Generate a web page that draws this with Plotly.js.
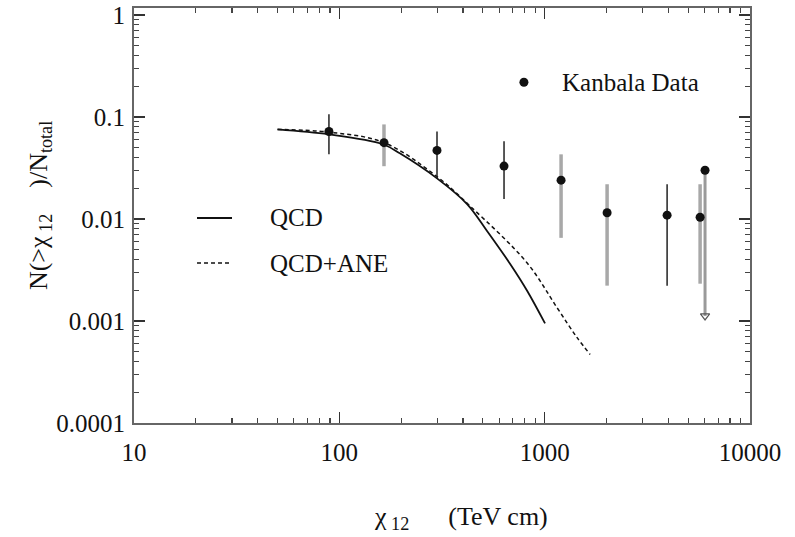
<!DOCTYPE html>
<html>
<head>
<meta charset="utf-8">
<script src="https://cdn.plot.ly/plotly-3.0.1.min.js"></script>
<style>
  html, body { margin: 0; padding: 0; background: #fff; }
  #plot { width: 795px; height: 537px; }
  /* serif face for every label in the chart */
  #plot text, #plot tspan { font-family: "Liberation Serif", "Times New Roman", serif !important; }
</style>
</head>
<body>
<div id="plot"></div>
<script>
// QCD prediction (solid)
const qcdX = [50, 89, 163, 197, 299, 419, 524, 678, 820, 1004];
const qcdY = [0.0755, 0.0675, 0.054, 0.044, 0.025, 0.014, 0.00763, 0.00364, 0.00199, 0.000946];

// QCD + ANE prediction (dashed)
const aneX = [50, 89, 165, 299, 433, 820, 1149, 1436, 1665];
const aneY = [0.0755, 0.071, 0.056, 0.026, 0.0134, 0.00372, 0.00135, 0.00069, 0.00047];

// Kanbala measurements with lower / upper bounds of the error bars
const kanX  = [89, 165, 299, 634, 1202, 2014, 3947, 5715];
const kanY  = [0.072, 0.056, 0.047, 0.033, 0.024, 0.0115, 0.0109, 0.0104];
const kanHi = [0.106, 0.0845, 0.0722, 0.0577, 0.043, 0.0219, 0.0219, 0.0219];
const kanLo = [0.043, 0.0329, 0.0251, 0.0157, 0.00653, 0.00222, 0.00222, 0.00232];
const kanTone = ['dark', 'grey', 'dark', 'dark', 'grey', 'grey', 'dark', 'grey'];

// last point: upper limit with a downward arrow
const limX = [6040];
const limY = [0.030];
const limFloor = [0.00112];

// axis ticks
const xTickVals = [10, 100, 1000, 10000];
const xTickText = ['10', '100', '1000', '10000'];
const yTickVals = [0.0001, 0.001, 0.01, 0.1, 1];
const yTickText = ['0.0001', '0.001', '0.01', '0.1', '1'];

// key entries
const keyNames = ['Kanbala Data', 'QCD', 'QCD+ANE'];

function minorTicks(lo, hi) {
  const out = [];
  for (let e = lo; e < hi; e++) {
    for (let d = 2; d <= 9; d++) out.push(d * Math.pow(10, e));
  }
  return out;
}

const FAMILY = 'Liberation Serif';
const INK = '#111111';
const NB = '\u00a0';
function serifFont(size) { return { family: FAMILY, size: size, color: INK }; }

function barTrace(tone, color, thick) {
  const idx = kanTone.map((t, i) => t === tone ? i : -1).filter(i => i >= 0);
  return {
    type: 'scatter', mode: 'markers', showlegend: false, hoverinfo: 'skip',
    x: idx.map(i => kanX[i]),
    y: idx.map(i => kanY[i]),
    marker: { size: 1, color: 'rgba(0,0,0,0)' },
    error_y: {
      type: 'data', symmetric: false,
      array: idx.map(i => kanHi[i] - kanY[i]),
      arrayminus: idx.map(i => kanY[i] - kanLo[i]),
      color: color, thickness: thick, width: 0
    }
  };
}

const traces = [
  {
    type: 'scatter', mode: 'lines', name: keyNames[1], showlegend: false,
    x: qcdX, y: qcdY,
    line: { color: INK, width: 1.8, shape: 'spline', smoothing: 1 }
  },
  {
    type: 'scatter', mode: 'lines', name: keyNames[2], showlegend: false,
    x: aneX, y: aneY,
    line: { color: INK, width: 1.5, dash: '4px,3px', shape: 'spline', smoothing: 1 }
  },
  barTrace('grey', '#a8a8a8', 3.5),
  barTrace('dark', '#222', 1.5),
  {
    type: 'scatter', mode: 'markers', showlegend: false, hoverinfo: 'skip',
    x: limX, y: limY,
    marker: { size: 1, color: 'rgba(0,0,0,0)' },
    error_y: {
      type: 'data', symmetric: false,
      array: limY.map(() => 0),
      arrayminus: limY.map((v, i) => v - limFloor[i]),
      color: '#9a9a9a', thickness: 3, width: 0
    }
  },
  {
    type: 'scatter', mode: 'markers', showlegend: false, hoverinfo: 'skip',
    x: limX, y: limFloor,
    marker: { symbol: 'triangle-down-open', size: 8, color: '#555', line: { color: '#555', width: 1.2 } }
  },
  {
    type: 'scatter', mode: 'markers', name: keyNames[0], showlegend: false,
    x: kanX.concat(limX), y: kanY.concat(limY),
    marker: { size: 9, color: '#111' }
  }
];

function axis(extra) {
  return Object.assign({
    type: 'log',
    showgrid: false, zeroline: false,
    showline: true, linecolor: '#666', linewidth: 2, mirror: 'ticks',
    ticks: 'inside', ticklen: 11, tickwidth: 1.5, tickcolor: '#333',
    tickmode: 'array',
    tickfont: serifFont(25)
  }, extra);
}

// key placed inside the plotting area (paper fractions)
const keyItems = [
  { kind: 'dot',    x: 0.633, y: 0.821, tx: 0.6916, label: keyNames[0] },
  { kind: 'solid',  x: 0.1023, y: 0.494, tx: 0.2175, label: keyNames[1] },
  { kind: 'dashed', x: 0.1023, y: 0.3855, tx: 0.2175, label: keyNames[2] }
];

const keyShapes = keyItems.map(k => {
  if (k.kind === 'dot') {
    return { type: 'circle', xref: 'paper', yref: 'paper',
      x0: k.x - 0.0073, x1: k.x + 0.0073, y0: k.y - 0.0108, y1: k.y + 0.0108,
      fillcolor: '#111', line: { width: 0 } };
  }
  return { type: 'line', xref: 'paper', yref: 'paper',
    x0: k.x, x1: k.x + 0.0568, y0: k.y, y1: k.y,
    line: { color: INK, width: k.kind === 'solid' ? 1.8 : 1.5, dash: k.kind === 'solid' ? 'solid' : '4px,3px' } };
});

const keyLabels = keyItems.map(k => ({
  xref: 'paper', yref: 'paper', x: k.tx, y: k.y,
  xanchor: 'left', yanchor: 'middle', showarrow: false,
  text: k.label, font: serifFont(25)
}));

const chartLayout = {
  width: 795, height: 537,
  margin: { l: 134, r: 45, t: 8, b: 114 },
  paper_bgcolor: '#fff', plot_bgcolor: '#fff',
  showlegend: false,
  font: serifFont(25),
  xaxis: axis({
    range: [1, 4],
    tickvals: xTickVals, ticktext: xTickText,
    ticklabelstandoff: 6,
    minor: { tickmode: 'array', tickvals: minorTicks(1, 4), ticks: 'inside', ticklen: 5, tickwidth: 1.2, tickcolor: '#444' }
  }),
  yaxis: axis({
    range: [-4, 0.068],
    tickvals: yTickVals, ticktext: yTickText,
    ticklabelstandoff: 2,
    minor: { tickmode: 'array', tickvals: minorTicks(-4, 0), ticks: 'inside', ticklen: 5, tickwidth: 1.2, tickcolor: '#444' }
  }),
  shapes: keyShapes,
  annotations: keyLabels.concat([
    {
      xref: 'paper', yref: 'paper', x: 0.531, y: -0.229,
      xanchor: 'center', yanchor: 'middle', showarrow: false,
      text: '\u03c7<sub> 12</sub>' + NB.repeat(6) + '(TeV cm)',
      font: serifFont(26)
    },
    {
      xref: 'paper', yref: 'paper', x: -0.1526, y: 0.525,
      xanchor: 'center', yanchor: 'middle', showarrow: false, textangle: -90,
      text: 'N(>\u03c7<sub> 12</sub>' + NB.repeat(4) + ')/N<sub>total</sub>',
      font: serifFont(26)
    }
  ])
};

Plotly.newPlot('plot', traces, chartLayout, { displayModeBar: false, staticPlot: true });
</script>
</body>
</html>
